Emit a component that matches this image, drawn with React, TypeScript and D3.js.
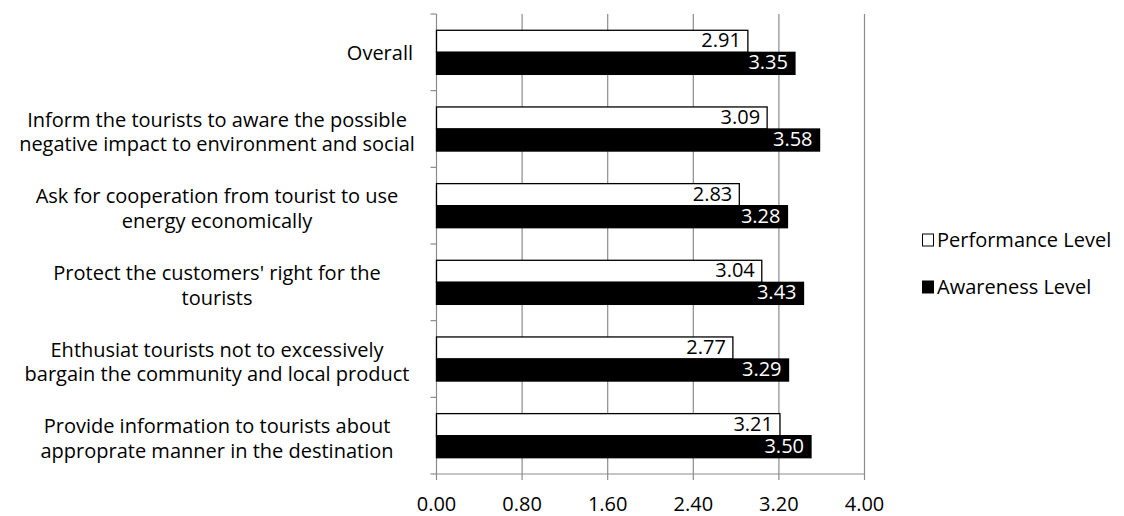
import React from "react";
import * as d3 from "d3";

const categories: string[][] = [
  ["Overall"],
  ["Inform the tourists to aware the possible", "negative impact to environment and social"],
  ["Ask for cooperation from tourist to use", "energy economically"],
  ["Protect the customers' right for the", "tourists"],
  ["Ehthusiat tourists not to excessively", "bargain the community and local product"],
  ["Provide information to tourists about", "approprate manner in the destination"],
];

const performance = [2.91, 3.09, 2.83, 3.04, 2.77, 3.21];
const awareness = [3.35, 3.58, 3.28, 3.43, 3.29, 3.5];

const seriesNames = ["Performance Level", "Awareness Level"];
const xTicks = [0, 0.8, 1.6, 2.4, 3.2, 4.0];

const W = 1124;
const H = 516;
const FONT = "'Open Sans', 'Noto Sans', sans-serif";
const FS = 20;

export default function App() {
  const left = 436.5;
  const right = 864.5;
  const top = 14;
  const bottom = 474;

  const x = d3.scaleLinear().domain([0, 4]).range([left, right]);
  const idx = categories.map((_, i) => i);
  const y = d3
    .scaleBand<number>()
    .domain(idx)
    .range([top, bottom])
    .paddingInner(0.425)
    .paddingOuter(0.2125);
  const step = y.step();
  const sub = d3.scaleBand<number>().domain([0, 1]).range([0, y.bandwidth()]);

  const series = [performance, awareness];
  const fills = ["#ffffff", "#000000"];
  const textFills = ["#000000", "#ffffff"];
  const boundaries = d3.range(categories.length + 1).map((i) => top + i * step);

  return (
    <svg width={W} height={H} style={{ display: "block", position: "absolute", left: 0, top: 0 }}>
      <rect width={W} height={H} fill="#ffffff" />
      {/* vertical gridlines */}
      {xTicks.slice(1).map((t) => (
        <line key={`g${t}`} x1={x(t)} x2={x(t)} y1={top} y2={bottom} stroke="#8c8c8c" strokeWidth={1.2} />
      ))}
      {/* category axis */}
      <line x1={left} x2={left} y1={top} y2={bottom} stroke="#8c8c8c" strokeWidth={1.2} />
      {boundaries.map((b, i) => (
        <line key={`yt${i}`} x1={left - 6} x2={left} y1={b} y2={b} stroke="#8c8c8c" strokeWidth={1.2} />
      ))}
      {/* value axis */}
      <line x1={left} x2={right} y1={bottom} y2={bottom} stroke="#8c8c8c" strokeWidth={1.2} />
      {xTicks.map((t) => (
        <g key={`xt${t}`}>
          <line x1={x(t)} x2={x(t)} y1={bottom} y2={bottom + 6} stroke="#8c8c8c" strokeWidth={1.2} />
          <text x={x(t)} y={510.5} textAnchor="middle" fontFamily={FONT} fontSize={FS} fill="#000">
            {d3.format(".2f")(t)}
          </text>
        </g>
      ))}
      {/* bars */}
      {series.map((vals, s) =>
        vals.map((v, i) => {
          const by = (y(i) ?? 0) + (sub(s) ?? 0);
          const bh = sub.bandwidth();
          return (
            <g key={`b${s}-${i}`}>
              <rect
                x={x(0)}
                y={by}
                width={x(v) - x(0)}
                height={bh}
                fill={fills[s]}
                stroke="#000"
                strokeWidth={1.3}
              />
              <text
                x={x(v) - 7}
                y={by + bh / 2 + 6}
                textAnchor="end"
                fontFamily={FONT}
                fontSize={FS}
                fill={textFills[s]}
              >
                {d3.format(".2f")(v)}
              </text>
            </g>
          );
        })
      )}
      {/* category labels: wrapped lines centred on each other, block right-aligned */}
      {categories.map((lines, i) => {
        const cy = (y(i) ?? 0) + y.bandwidth() / 2;
        const lh = 24.5;
        const widest = 392;
        const cx = 413 - widest / 2;
        const multi = lines.length > 1;
        return (
          <text key={`c${i}`} fontFamily={FONT} fontSize={FS} fill="#000" textAnchor={multi ? "middle" : "end"}>
            {lines.map((ln, k) => (
              <tspan
                key={k}
                x={multi ? cx : 413}
                y={cy + (k - (lines.length - 1) / 2) * lh + 7.5 + (multi ? 2.5 : 0)}
              >
                {ln}
              </tspan>
            ))}
          </text>
        );
      })}
      {/* legend */}
      {seriesNames.map((name, s) => (
        <g key={`l${s}`} transform={`translate(922, ${234 + s * 47})`}>
          <rect x={0.5} y={0} width={11} height={12} fill={fills[s]} stroke="#000" strokeWidth={1} />
          <text x={15} y={12.5} fontFamily={FONT} fontSize={FS} fill="#000">
            {name}
          </text>
        </g>
      ))}
    </svg>
  );
}
